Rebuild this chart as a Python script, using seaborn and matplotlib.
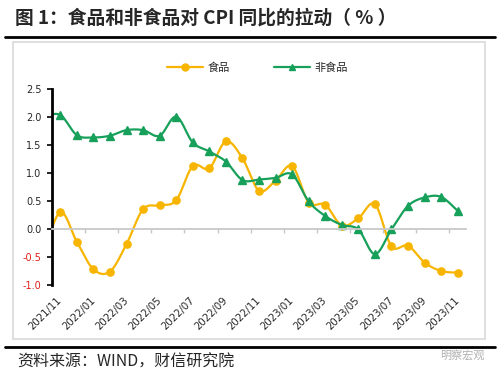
import numpy as np
import matplotlib
matplotlib.use("Agg")
import matplotlib.pyplot as plt
import seaborn as sns
from matplotlib.lines import Line2D
from matplotlib.patches import Rectangle

# monthly data, 2021/10 .. 2023/11 (2021/10 only shows as the clipped lead-in)
months = ['2021/10', '2021/11', '2021/12', '2022/01', '2022/02', '2022/03', '2022/04',
          '2022/05', '2022/06', '2022/07', '2022/08', '2022/09', '2022/10', '2022/11',
          '2022/12', '2023/01', '2023/02', '2023/03', '2023/04', '2023/05', '2023/06',
          '2023/07', '2023/08', '2023/09', '2023/10', '2023/11']
food = [-0.45, 0.30, -0.23, -0.72, -0.76, -0.27, 0.35, 0.42, 0.51, 1.12, 1.08, 1.56, 1.26,
        0.68, 0.86, 1.12, 0.47, 0.43, 0.06, 0.19, 0.44, -0.31, -0.30, -0.60, -0.75, -0.78]
nonfood = [2.00, 2.03, 1.67, 1.63, 1.66, 1.76, 1.76, 1.66, 2.00, 1.54, 1.38, 1.20, 0.87,
           0.88, 0.91, 0.97, 0.49, 0.23, 0.07, -0.01, -0.45, -0.01, 0.41, 0.56, 0.57, 0.32]

YELLOW = '#F7B500'
GREEN = '#17A05A'


def smooth(x, y, n=20):
    # Excel-style smoothed line: cubic bezier with catmull-rom tangents
    x = np.asarray(x, float)
    y = np.asarray(y, float)
    px = np.concatenate([[x[0]], x, [x[-1]]])
    py = np.concatenate([[y[0]], y, [y[-1]]])
    xs, ys = [], []
    t = np.linspace(0, 1, n)
    for i in range(1, len(px) - 2):
        p0, p1, p2, p3 = (np.array([px[j], py[j]]) for j in (i - 1, i, i + 1, i + 2))
        c1 = p1 + (p2 - p0) / 6
        c2 = p2 - (p3 - p1) / 6
        pts = ((1 - t) ** 3)[:, None] * p1 + (3 * (1 - t) ** 2 * t)[:, None] * c1 \
            + (3 * (1 - t) * t ** 2)[:, None] * c2 + (t ** 3)[:, None] * p2
        xs.extend(pts[:, 0])
        ys.extend(pts[:, 1])
    return np.array(xs), np.array(ys)


sns.set_style("white")
plt.rcParams['font.family'] = ['Noto Sans CJK SC', 'DejaVu Sans']

fig = plt.figure(figsize=(5, 3.77), dpi=100)
ax = fig.add_axes([0.104, 0.244, 0.828, 0.521])

idx = np.arange(len(months)) - 1  # 2021/11 -> 0

for vals, col, mk in [(food, YELLOW, 'o'), (nonfood, GREEN, '^')]:
    sx, sy = smooth(idx, vals)
    sns.lineplot(x=sx, y=sy, sort=False, color=col, linewidth=1.6, ax=ax)
    ax.plot(idx, vals, ls='none', marker=mk, ms=5.2, color=col)

ax.set_xlim(-0.5, 24.5)
ax.set_ylim(-1.0, 2.5)
ax.set_yticks(np.arange(-1.0, 2.51, 0.5))
ax.set_yticklabels([f'{v:.1f}' for v in np.arange(-1.0, 2.51, 0.5)],
                   family='DejaVu Sans', fontsize=7)
for lab in ax.get_yticklabels():
    if lab.get_text().startswith('-'):
        lab.set_color('#E0201B')
ax.tick_params(axis='y', direction='out', length=3.5, width=1.2, color='black', pad=4,
               left=True)

# category axis drawn on the zero line, labels kept at the bottom
for s in ['top', 'right']:
    ax.spines[s].set_visible(False)
ax.spines['left'].set_color('black')
ax.spines['left'].set_linewidth(2)
ax.spines['bottom'].set_position(('data', 0))
ax.spines['bottom'].set_color('#C8C8C8')
ax.spines['bottom'].set_linewidth(1.3)
ax.set_xticks(np.arange(1.5, 24, 2))
ax.set_xticklabels([])
ax.tick_params(axis='x', direction='out', length=3, width=1, color='#C8C8C8', bottom=True)

sec = ax.secondary_xaxis(0)
sec.set_xticks(np.arange(0, 25, 2))
sec.set_xticklabels(months[1::2], family='DejaVu Sans', fontsize=7.3, rotation=45,
                    ha='right', va='center', rotation_mode='anchor')
sec.tick_params(axis='x', length=0, pad=10)
sec.spines['bottom'].set_visible(False)

handles = [Line2D([], [], color=YELLOW, lw=1.6, marker='o', ms=5),
           Line2D([], [], color=GREEN, lw=1.6, marker='^', ms=5)]
fig.legend(handles, ['食品', '非食品'], loc='center', bbox_to_anchor=(0.515, 0.82),
           ncol=2, frameon=False, fontsize=8, handlelength=3.2, columnspacing=4,
           handletextpad=0.4)

# report frame: title, rules, grey box and source line
fig.text(0.03, 0.952, '图 1：食品和非食品对 CPI 同比的拉动（ % ）', fontsize=13.5,
         weight='bold', va='center', ha='left')
fig.add_artist(Line2D([0.01, 0.99], [0.902, 0.902], color='black', lw=2,
                      transform=fig.transFigure))
fig.add_artist(Line2D([0.01, 0.99], [0.080, 0.080], color='black', lw=2,
                      transform=fig.transFigure))
fig.add_artist(Rectangle((0.026, 0.101), 0.944, 0.788, fill=False, ec='#D9D9D9', lw=1.2,
                         transform=fig.transFigure))
fig.text(0.035, 0.040, '资料来源：WIND，财信研究院', fontsize=11.5, style='italic',
         va='center', ha='left')
fig.text(0.97, 0.058, '明察宏观', fontsize=8, color='#B0B0B0', va='center', ha='right')

fig.savefig('out.png', dpi=100)
